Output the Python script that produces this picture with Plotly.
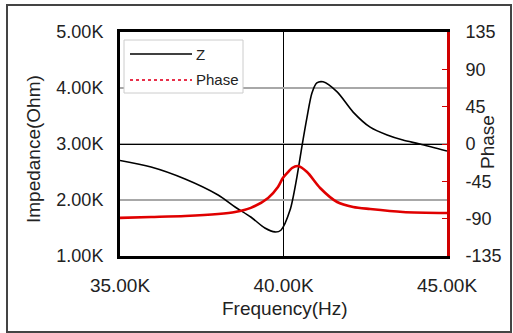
import plotly.graph_objects as go

# ---- data ----
z_freq_k = [35.0, 35.95, 36.99, 38.0, 38.52, 39.0, 39.43, 39.74, 39.92, 40.2, 40.41,
            40.57, 40.72, 40.87, 41.02, 41.21, 41.64, 42.13, 42.65, 43.17, 43.65, 44.17, 45.0]
z_kohm = [2.705, 2.589, 2.375, 2.089, 1.875, 1.696, 1.50, 1.43, 1.46, 1.82, 2.41,
          2.98, 3.48, 3.91, 4.09, 4.11, 3.93, 3.57, 3.30, 3.16, 3.07, 3.00, 2.875]

ph_freq_k = [35.0, 35.95, 36.99, 38.0, 38.52, 39.0, 39.53, 39.83, 39.98, 40.14, 40.26,
             40.44, 40.72, 41.12, 41.64, 42.13, 42.65, 43.65, 45.0]
phase_deg = [-89.0, -88.0, -86.8, -84.4, -82.0, -77.0, -65.0, -51.8, -41.0, -33.8, -28.9,
             -26.5, -33.8, -53.0, -69.9, -75.9, -78.4, -82.0, -83.2]

x_ticks = [35, 40, 45]
x_ticktext = ["35.00K", "40.00K", "45.00K"]
y_ticks = [1, 2, 3, 4, 5]
y_ticktext = ["1.00K", "2.00K", "3.00K", "4.00K", "5.00K"]
y2_ticks = [-135, -90, -45, 0, 45, 90, 135]
y2_ticktext = ["-135", "-90", "-45", "0", "45", "90", "135"]

FONT = "Liberation Sans, Arial, sans-serif"
TXT = "#222222"

fig = go.Figure()
fig.add_trace(go.Scatter(x=z_freq_k, y=z_kohm, name="Z", mode="lines",
                         line=dict(color="black", width=1.6, shape="spline", smoothing=0.8)))
fig.add_trace(go.Scatter(x=ph_freq_k, y=phase_deg, name="Phase", mode="lines", yaxis="y2",
                         line=dict(color="#e00000", width=2.6, shape="spline", smoothing=0.8)))

fig.update_layout(
    width=513, height=333,
    margin=dict(l=120, r=66, t=32, b=77, pad=0),
    paper_bgcolor="white", plot_bgcolor="white",
    font=dict(family=FONT, color=TXT),
    showlegend=False,
    xaxis=dict(range=[35, 45], tickvals=x_ticks, ticktext=x_ticktext,
               tickfont=dict(size=19), showgrid=True, gridcolor="black", gridwidth=1.4,
               zeroline=False, showline=True, linecolor="black", linewidth=3, mirror=True,
               ticks="", ticklabelstandoff=10),
    yaxis=dict(range=[1, 5], tickvals=y_ticks, ticktext=y_ticktext,
               tickfont=dict(size=18), showgrid=True, gridcolor="#a8a8a8", gridwidth=2,
               zeroline=False, showline=True, linecolor="black", linewidth=3,
               ticks="", ticklabelstandoff=10),
    yaxis2=dict(range=[-135, 135], tickvals=y2_ticks, ticktext=y2_ticktext,
                overlaying="y", side="right",
                tickfont=dict(size=18), showgrid=False,
                zeroline=True, zerolinecolor="black", zerolinewidth=1.4,
                showline=True, linecolor="#d00000", linewidth=3,
                ticks="inside", ticklen=5, tickcolor="#d00000", tickwidth=1,
                ticklabelstandoff=12),
)

def px_x(p):
    return (p - 120) / 327.0

def px_y(p):
    return (256 - p) / 224.0

shapes = [
    # outer frame
    dict(type="rect", xref="paper", yref="paper", x0=px_x(7), x1=px_x(511), y0=px_y(332), y1=px_y(5),
         line=dict(color="#444444", width=2), fillcolor="rgba(0,0,0,0)", layer="below"),
    # legend box
    dict(type="rect", xref="paper", yref="paper", x0=px_x(124), x1=px_x(243), y0=px_y(93), y1=px_y(40),
         line=dict(color="#cccccc", width=1), fillcolor="white", layer="above"),
    dict(type="line", xref="paper", yref="paper", x0=px_x(130), x1=px_x(192), y0=px_y(54), y1=px_y(54),
         line=dict(color="black", width=1.5), layer="above"),
    dict(type="line", xref="paper", yref="paper", x0=px_x(130), x1=px_x(192), y0=px_y(80), y1=px_y(80),
         line=dict(color="#e8304a", width=2, dash="dot"), layer="above"),
]
fig.update_layout(shapes=shapes)
fig.add_annotation(xref="paper", yref="paper", x=px_x(194), y=px_y(54), text="Z", showarrow=False,
                   xanchor="left", yanchor="middle", font=dict(size=15, color=TXT))
fig.add_annotation(xref="paper", yref="paper", x=px_x(194), y=px_y(79), text="Phase", showarrow=False,
                   xanchor="left", yanchor="middle", font=dict(size=15, color=TXT))
# axis titles
fig.add_annotation(xref="paper", yref="paper", x=px_x(33), y=px_y(149), text="Impedance(Ohm)",
                   textangle=-90, showarrow=False, xanchor="center", yanchor="middle",
                   font=dict(size=19, color=TXT))
fig.add_annotation(xref="paper", yref="paper", x=px_x(285), y=px_y(308), text="Frequency(Hz)",
                   showarrow=False, xanchor="center", yanchor="middle",
                   font=dict(size=19, color=TXT))
fig.add_annotation(xref="paper", yref="paper", x=px_x(487), y=px_y(142), text="Phase",
                   textangle=-90, showarrow=False, xanchor="center", yanchor="middle",
                   font=dict(size=19, color=TXT))

fig.write_html("out.html", config={"displayModeBar": False},
               post_script="document.body.style.margin='0';")
